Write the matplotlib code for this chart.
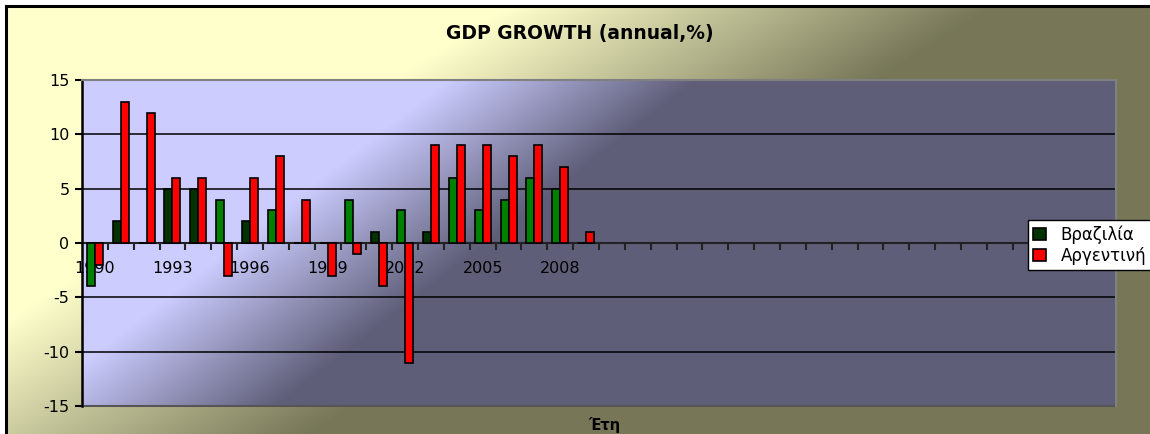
import numpy as np
import matplotlib.pyplot as plt
from matplotlib.colors import to_rgb
from matplotlib.lines import Line2D

# data
years = list(range(1990, 2010))
brazil = [-4, 2, 0, 5, 5, 4, 2, 3, 0, 0, 4, 1, 3, 1, 6, 3, 4, 6, 5, 0]
argentina = [-2, 13, 12, 6, 6, -3, 6, 8, 4, -3, -1, -4, -11, 9, 9, 9, 8, 9, 7, 1]
n_slots = 40  # empty categories after 2009 like the excel sheet
labels = [str(y) if (y - 1990) % 3 == 0 else '' for y in years] + [''] * (n_slots - len(years))

# per-bar fill of brazil series (dark / light green)
dark_g = '#003300'
light_g = '#008000'
bra_colors = [light_g, dark_g, dark_g, dark_g, dark_g, light_g, dark_g, light_g, dark_g, dark_g,
              light_g, dark_g, light_g, dark_g, light_g, light_g, light_g, light_g, light_g, dark_g]

W, H = 1150, 434
fig = plt.figure(figsize=(W / 100, H / 100), dpi=100)
fig.patch.set_facecolor('white')


def gradient(w, h, x0, y0, k, start, span, c1, c2):
    xs = np.arange(w) + x0
    ys = np.arange(h) + y0
    X, Y = np.meshgrid(xs, ys)
    t = np.clip((X + k * Y - start) / span, 0, 1)
    a = np.array(to_rgb(c1))
    b = np.array(to_rgb(c2))
    return a + (b - a) * t[..., None]


# chart area background
bg = fig.add_axes([6 / W, 0, 1 - 6 / W, 1 - 6 / H])
bg.imshow(gradient(W - 6, H - 6, 6, 6, 1.6, 520, 480, '#FFFFCC', '#777759'),
          extent=[0, 1, 0, 1], aspect='auto', interpolation='bilinear')
bg.set_xlim(0, 1)
bg.set_ylim(0, 1)
bg.axis('off')
fig.add_artist(Line2D([6 / W, 6 / W], [0, 1 - 6 / H], color='black', linewidth=2.2))
fig.add_artist(Line2D([6 / W, 1], [1 - 6 / H, 1 - 6 / H], color='black', linewidth=2.2))

# plot area
px0, px1, py0, py1 = 82, 1116, 80, 406
ax = fig.add_axes([px0 / W, 1 - py1 / H, (px1 - px0) / W, (py1 - py0) / H])
ax.imshow(gradient(px1 - px0, py1 - py0, px0, py0, 1.29, 550, 250, '#CCCCFF', '#5E5E78'),
          extent=[0, 1, 0, 1], transform=ax.transAxes, aspect='auto',
          interpolation='bilinear', zorder=0)

x = np.arange(len(years))
bw = 0.31
ax.bar(x - bw / 2, brazil, bw, color=bra_colors, edgecolor='black', linewidth=1.2, zorder=3,
       label='Βραζιλία')
ax.bar(x + bw / 2, argentina, bw, color='#FF0000', edgecolor='black', linewidth=1.2, zorder=3,
       label='Αργεντινή')

ax.set_xlim(-0.5, n_slots - 0.5)
ax.set_ylim(-15, 15)
ax.set_yticks(np.arange(-15, 16, 5))
ax.set_yticklabels([str(v) for v in range(-15, 16, 5)], fontsize=11.5, family='DejaVu Sans')
for v in [-10, -5, 5, 10]:
    ax.axhline(v, color='black', linewidth=1.1, zorder=1)

ax.spines['bottom'].set_position(('data', 0))
ax.spines['bottom'].set_linewidth(1.5)
ax.spines['bottom'].set_color('#222222')
ax.spines['bottom'].set_zorder(2)
ax.spines['left'].set_linewidth(1.8)
ax.spines['left'].set_color('black')
ax.spines['top'].set_color('#808080')
ax.spines['top'].set_linewidth(1.5)
ax.spines['right'].set_color('#808080')
ax.spines['right'].set_linewidth(1.5)

ax.set_xticks(np.arange(n_slots))
ax.set_xticklabels(labels, fontsize=11.5, family='DejaVu Sans')
ax.set_xticks(np.arange(n_slots - 1) + 0.5, minor=True)
ax.tick_params(axis='x', which='major', length=0, pad=13)
ax.tick_params(axis='x', which='minor', length=5, width=1.5, direction='out', color='#222222')
ax.tick_params(axis='y', length=5, width=1.5, direction='out', pad=4)
for t in ax.get_xticklabels():
    t.set_zorder(4)

# bottom frame of plot area
ax.plot([0, 1], [0, 0], transform=ax.transAxes, color='#555555', linewidth=1.5, clip_on=False, zorder=2)

fig.text(580 / W, 1 - 33 / H, 'GDP GROWTH (annual,%)', ha='center', va='center',
         fontsize=13.5, fontweight='bold', family='DejaVu Sans')
fig.text(604 / W, 1 - 425 / H, 'Έτη', ha='center', va='center',
         fontsize=10.5, fontweight='bold', family='DejaVu Sans')

leg = fig.legend(loc='upper left', bbox_to_anchor=(1028 / W, 1 - 220 / H), fontsize=12,
                 frameon=True, fancybox=False, framealpha=1, handlelength=0.75, handleheight=0.75,
                 handletextpad=0.9, borderpad=0.3, labelspacing=0.2, borderaxespad=0)
leg.get_frame().set_edgecolor('black')
leg.get_frame().set_linewidth(1.0)
leg.get_frame().set_facecolor('white')
leg.legend_handles[0].set_facecolor(dark_g)

fig.savefig('out.png', dpi=100, facecolor=fig.get_facecolor())
